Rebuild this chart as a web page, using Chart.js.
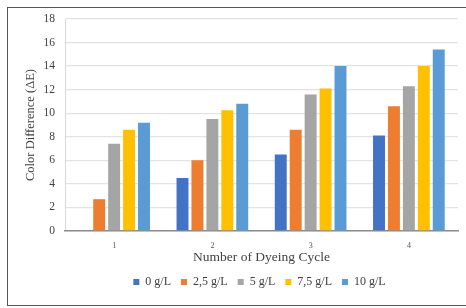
<!DOCTYPE html>
<html>
<head>
<meta charset="utf-8">
<script src="https://cdn.jsdelivr.net/npm/chart.js@4"></script>
<style>
  body { margin: 0; background: #fff; }
  #wrap { position: relative; width: 466px; height: 308px; overflow: hidden; }
  #frame { position: absolute; left: 7px; top: 7px; width: 470px; height: 297px;
           border: 1.5px solid #555; }
  canvas { position: absolute; left: 0; top: 0; }
</style>
</head>
<body>
<div id="wrap">
  <div id="frame"></div>
  <canvas id="barChart" width="466" height="308"></canvas>
</div>
<script>
const cycles = ['1', '2', '3', '4'];
const s0 = [0, 4.5, 6.5, 8.1];
const s25 = [2.7, 6.0, 8.6, 10.6];
const s5 = [7.4, 9.5, 11.6, 12.3];
const s75 = [8.6, 10.25, 12.1, 14.0];
const s10 = [9.2, 10.8, 14.0, 15.4];
const seriesNames = ['0 g/L', '2,5 g/L', '5 g/L', '7,5 g/L', '10 g/L'];
const seriesColors = ['#4472C4', '#ED7D31', '#A5A5A5', '#FFC000', '#5B9BD5'];

const serif = 'Liberation Serif, Times New Roman, serif';

// legend sits centred under the plot area, not the whole canvas
const shiftLegend = {
    id: 'shiftLegend',
    afterLayout(chart) {
        chart.legend.left += 20;
        chart.legend.right += 20;
    }
};

const ctx = document.getElementById('barChart').getContext('2d');
new Chart(ctx, {
    type: 'bar',
    data: {
        labels: cycles,
        datasets: [s0, s25, s5, s75, s10].map((d, i) => ({
            label: seriesNames[i],
            data: d,
            backgroundColor: seriesColors[i],
            categoryPercentage: 0.76,
            barPercentage: 0.8
        }))
    },
    plugins: [shiftLegend],
    options: {
        responsive: false,
        animation: false,
        layout: { padding: { left: 21, right: 8, top: 19, bottom: 10 } },
        plugins: {
            tooltip: { enabled: false },
            legend: {
                position: 'bottom',
                labels: {
                    boxWidth: 6,
                    boxHeight: 6,
                    padding: 10,
                    color: '#404040',
                    font: { family: serif, size: 12 }
                }
            }
        },
        scales: {
            y: {
                min: 0,
                max: 18,
                ticks: { stepSize: 2, color: '#404040', padding: 10, font: { family: serif, size: 11.5 } },
                grid: { color: '#e3e3e3', lineWidth: 1.3, drawTicks: false },
                border: { color: '#d9d9d9' },
                title: {
                    display: true,
                    text: 'Color Difference (ΔE)',
                    color: '#404040',
                    padding: { top: 2, bottom: 0 },
                    font: { family: serif, size: 12.5 }
                },
                afterFit: s => { s.width = 44; }
            },
            x: {
                ticks: { color: '#555', padding: 2, font: { family: serif, size: 8 } },
                grid: { display: false },
                border: { color: '#8c8c8c', width: 1.5 },
                title: {
                    display: true,
                    text: 'Number of Dyeing Cycle',
                    color: '#404040',
                    padding: { top: 10, bottom: 0 },
                    font: { family: serif, size: 13.5 }
                },
                afterFit: s => { s.height = 35; }
            }
        }
    }
});
</script>
</body>
</html>
